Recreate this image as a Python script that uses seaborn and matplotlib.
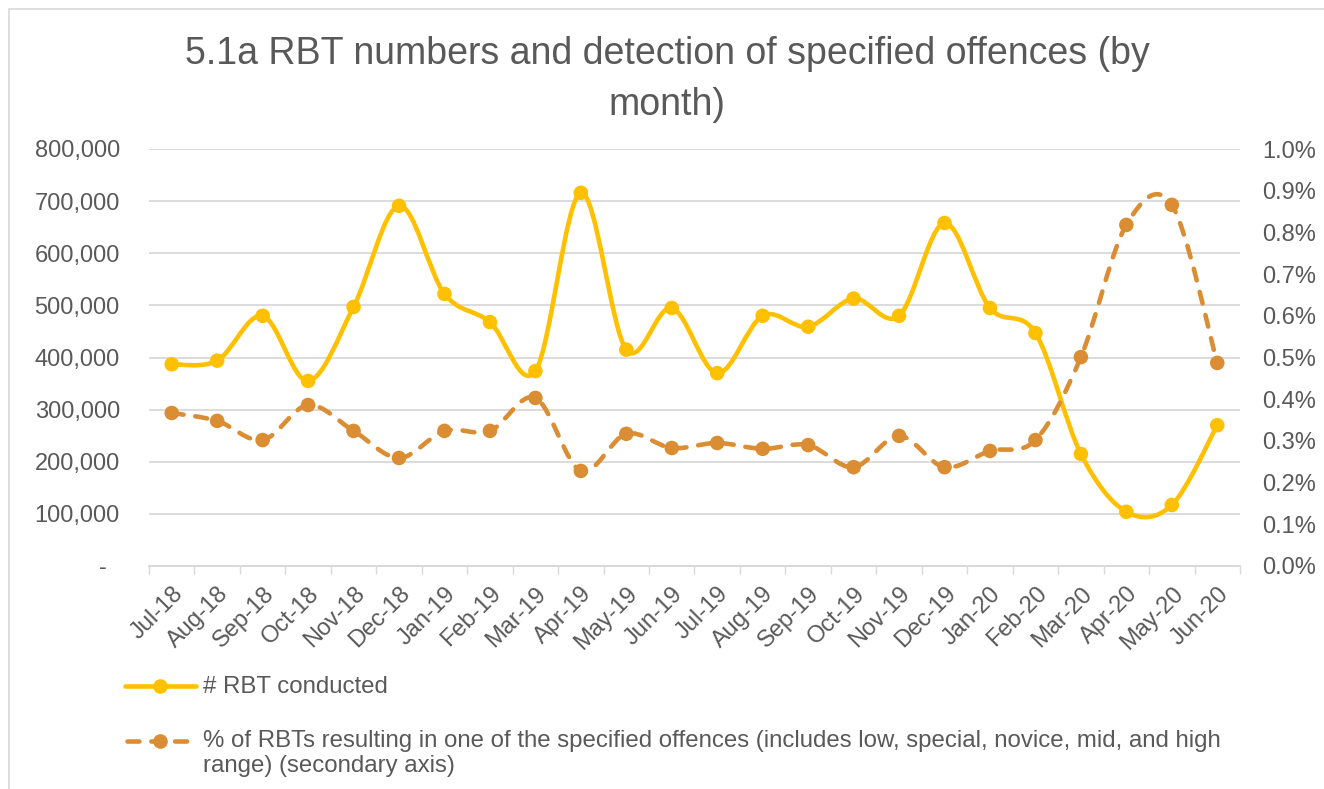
import matplotlib
matplotlib.use("Agg")
import matplotlib.pyplot as plt
import matplotlib.ticker as mticker
from matplotlib.path import Path
from matplotlib.patches import PathPatch, Rectangle
from matplotlib.lines import Line2D
import numpy as np
import pandas as pd
import seaborn as sns

MONTHS = ["Jul-18", "Aug-18", "Sep-18", "Oct-18", "Nov-18", "Dec-18",
          "Jan-19", "Feb-19", "Mar-19", "Apr-19", "May-19", "Jun-19",
          "Jul-19", "Aug-19", "Sep-19", "Oct-19", "Nov-19", "Dec-19",
          "Jan-20", "Feb-20", "Mar-20", "Apr-20", "May-20", "Jun-20"]
RBT_CONDUCTED = [387000, 394000, 480000, 355000, 497000, 691000,
                 522000, 468000, 374000, 716000, 415000, 495000,
                 370000, 480000, 459000, 513000, 480000, 658000,
                 495000, 447000, 215000, 104000, 117000, 270000]
OFFENCE_PCT = [0.367, 0.348, 0.302, 0.386, 0.324, 0.259,
               0.324, 0.324, 0.403, 0.228, 0.317, 0.283,
               0.295, 0.281, 0.290, 0.237, 0.312, 0.237,
               0.276, 0.302, 0.501, 0.818, 0.866, 0.487]

RBT_LABEL = "# RBT conducted"
PCT_LABEL = ("% of RBTs resulting in one of the specified offences (includes low, special, novice, mid, and high\n"
             "range) (secondary axis)")
TITLE = "5.1a RBT numbers and detection of specified offences (by\nmonth)"

GOLD = "#FFC000"
ORANGE = "#DA8D32"
TEXT = "#595959"
GRID = "#D9D9D9"
FS = 17
LEGEND_FS = 17.3


def smooth_path(xs, ys):
    # Excel-style smoothed line: cubic Bezier segments through every point
    pts = np.column_stack([xs, ys]).astype(float)
    n = len(pts)
    verts, codes = [pts[0]], [Path.MOVETO]
    for i in range(n - 1):
        p0 = pts[max(i - 1, 0)]
        p1, p2 = pts[i], pts[i + 1]
        p3 = pts[min(i + 2, n - 1)]
        verts += [p1 + (p2 - p0) / 6, p2 - (p3 - p1) / 6, p2]
        codes += [Path.CURVE4] * 3
    return Path(verts, codes)


def main():
    sns.set_theme(style="white")
    plt.rcParams["font.family"] = ["Liberation Sans", "DejaVu Sans"]

    df = pd.DataFrame({"month": MONTHS, "rbt": RBT_CONDUCTED, "pct": OFFENCE_PCT})
    df["idx"] = np.arange(len(df))

    fig = plt.figure(figsize=(13.24, 7.89), dpi=100)
    ax = fig.add_axes([149 / 1324, 1 - 566 / 789, (1240 - 149) / 1324, (566 - 149) / 789])
    ax2 = ax.twinx()

    lw = 3.3
    ax.add_patch(PathPatch(smooth_path(df["idx"], df["rbt"]), fill=False,
                           edgecolor=GOLD, lw=lw, capstyle="round", joinstyle="round", zorder=3))
    sns.scatterplot(data=df, x="idx", y="rbt", ax=ax, color=GOLD, s=110,
                    edgecolor="none", zorder=4, legend=False)

    ax2.add_patch(PathPatch(smooth_path(df["idx"], df["pct"]), fill=False,
                            edgecolor=ORANGE, lw=lw, linestyle=(0, (2.6, 2.6)),
                            capstyle="round", joinstyle="round", zorder=3))
    sns.scatterplot(data=df, x="idx", y="pct", ax=ax2, color=ORANGE, s=110,
                    edgecolor="none", zorder=4, legend=False)

    ax.set_xlim(-0.5, len(MONTHS) - 0.5)
    ax.set_ylim(0, 800000)
    ax2.set_ylim(0, 1.0)

    ax.yaxis.set_major_locator(mticker.MultipleLocator(100000))
    ax.yaxis.set_major_formatter(mticker.FuncFormatter(
        lambda v, _: "-  " if v == 0 else f"{v:,.0f}"))
    ax2.yaxis.set_major_locator(mticker.MultipleLocator(0.1))
    ax2.yaxis.set_major_formatter(mticker.FuncFormatter(lambda v, _: f"{v:.1f}%"))

    ax.set_xticks(df["idx"])
    ax.set_xticklabels(MONTHS, rotation=45, ha="right", va="top", rotation_mode="anchor")
    ax.set_xticks(np.arange(-0.5, len(MONTHS)), minor=True)
    ax.tick_params(axis="x", which="major", length=0, pad=12, labelsize=FS, labelcolor=TEXT)
    ax.tick_params(axis="x", which="minor", length=6, width=1, color=GRID, direction="out", bottom=True)
    ax.tick_params(axis="y", length=0, pad=21, labelsize=FS, labelcolor=TEXT)
    ax2.tick_params(axis="y", length=0, pad=16, labelsize=FS, labelcolor=TEXT)

    ax.grid(axis="y", color=GRID, lw=1.3)
    ax.set_axisbelow(True)
    ax2.grid(False)
    for a in (ax, ax2):
        a.set_xlabel("")
        a.set_ylabel("")
        for side in ("left", "right", "top"):
            a.spines[side].set_visible(False)
        a.spines["bottom"].set_color(GRID)
        a.spines["bottom"].set_linewidth(1.3)
        a.patch.set_visible(False)

    fig.text(667 / 1324, 1 - 36 / 789, TITLE, ha="center", va="top",
             fontsize=27, color=TEXT, linespacing=1.54)

    # legend drawn below the plot, one entry per row
    def fy(py):
        return 1 - py / 789

    def fx(px):
        return px / 1324

    fig.add_artist(Line2D([fx(125), fx(196)], [fy(686), fy(686)], color=GOLD, lw=lw,
                          solid_capstyle="round", transform=fig.transFigure))
    fig.add_artist(Line2D([fx(160)], [fy(686)], color=GOLD, marker="o", markersize=10.5,
                          markeredgewidth=0, transform=fig.transFigure))
    fig.text(fx(203), fy(693), RBT_LABEL, ha="left", va="baseline", fontsize=LEGEND_FS, color=TEXT)

    fig.add_artist(Line2D([fx(127), fx(190)], [fy(741), fy(741)], color=ORANGE, lw=lw,
                          linestyle=(0, (2.6, 2.6)), dash_capstyle="round",
                          transform=fig.transFigure))
    fig.add_artist(Line2D([fx(160)], [fy(741)], color=ORANGE, marker="o", markersize=10.5,
                          markeredgewidth=0, transform=fig.transFigure))
    fig.text(fx(203), fy(730), PCT_LABEL, ha="left", va="top", fontsize=LEGEND_FS, color=TEXT,
             linespacing=1.17)

    fig.add_artist(Rectangle((fx(9), -0.1), 1.2, fy(9.5) + 0.1, fill=False,
                             edgecolor=GRID, lw=1.2, transform=fig.transFigure))

    fig.savefig("out.png", dpi=100)
    plt.close(fig)


if __name__ == "__main__":
    main()
